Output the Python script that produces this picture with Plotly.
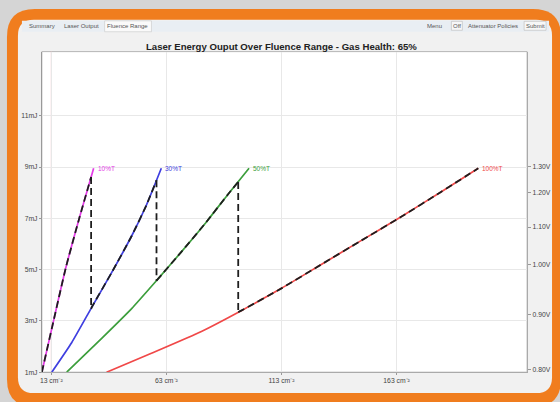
import plotly.graph_objects as go

# ---------------- data ----------------
pink_x = [8.9, 14.1, 19.3, 25.3, 31.4]
pink_y = [1.0, 3.05, 5.07, 7.05, 8.95]

blue_x = [13.2, 21.9, 30.5, 39.2, 47.9, 54.3, 60.8]
blue_y = [1.0, 2.16, 3.52, 4.88, 6.31, 7.51, 8.95]

green_x = [19.7, 34.9, 47.9, 58.7, 69.5, 80.3, 89.8, 98.9]
green_y = [1.0, 2.32, 3.48, 4.57, 5.69, 6.85, 7.94, 8.95]

red_x = [37.0, 56.5, 78.2, 95.5, 112.8, 130.1, 147.4, 164.8, 182.1, 198.5]
red_y = [1.0, 1.74, 2.59, 3.40, 4.26, 5.19, 6.12, 7.05, 8.02, 8.95]

# black dashed operating path (segments separated by None)
path_x = [8.9, 14.1, 19.3, 25.3, 30.3, None, 30.3, 30.3, None,
          30.3, 30.5, 39.2, 47.9, 54.3, 58.7, None, 58.7, 58.7, None,
          58.7, 69.5, 80.3, 89.8, 94.2, None, 94.2, 94.2, None,
          94.2, 95.5, 112.8, 130.1, 147.4, 164.8, 182.1, 198.5]
path_y = [1.0, 3.05, 5.07, 7.05, 8.61, None, 8.61, 3.47, None,
          3.47, 3.52, 4.88, 6.31, 7.51, 8.48, None, 8.48, 4.57, None,
          4.57, 5.69, 6.85, 7.94, 8.42, None, 8.42, 3.34, None,
          3.34, 3.40, 4.26, 5.19, 6.12, 7.05, 8.02, 8.95]

curve_labels = ["10%T", "30%T", "50%T", "100%T"]

x_tickvals = [13, 63, 113, 163]
x_ticktext = ["13 cm\u207b\u00b2", "63 cm\u207b\u00b2", "113 cm\u207b\u00b2", "163 cm\u207b\u00b2"]

y_tickvals = [1, 3, 5, 7, 9, 11]
y_ticktext = ["1mJ", "3mJ", "5mJ", "7mJ", "9mJ", "11mJ"]

v_tickvals = [1.12, 3.25, 5.19, 6.66, 8.02, 9.02]
v_ticktext = ["0.80V", "0.90V", "1.00V", "1.10V", "1.20V", "1.30V"]

title_text = "Laser Energy Ouput Over Fluence Range - Gas Health: 65%"

# ---------------- figure ----------------
W, H = 560, 402


def fx(p):
    return p / W


def fy(p):
    return 1 - p / H


def rrect(x0, y0, x1, y1, r):
    rx, ry = r / W, r / H
    X0, X1 = fx(x0), fx(x1)
    Yt, Yb = fy(y0), fy(y1)
    return (f"M {X0+rx},{Yt} L {X1-rx},{Yt} Q {X1},{Yt} {X1},{Yt-ry} "
            f"L {X1},{Yb+ry} Q {X1},{Yb} {X1-rx},{Yb} L {X0+rx},{Yb} "
            f"Q {X0},{Yb} {X0},{Yb+ry} L {X0},{Yt-ry} Q {X0},{Yt} {X0+rx},{Yt} Z")


FONT = "Liberation Sans, Arial, sans-serif"

fig = go.Figure()

line_specs = [
    (pink_x, pink_y, "#e33be6"),
    (blue_x, blue_y, "#3f3fe0"),
    (green_x, green_y, "#3c9e3c"),
    (red_x, red_y, "#f04848"),
]
for xs, ys, c in line_specs:
    fig.add_trace(go.Scatter(x=xs, y=ys, mode="lines",
                             line=dict(color=c, width=1.7, shape="spline", smoothing=0.5),
                             hoverinfo="skip", showlegend=False))

fig.add_trace(go.Scatter(x=path_x, y=path_y, mode="lines", connectgaps=False,
                         line=dict(color="#1e1e1e", width=1.8, dash="7px,4px",
                                   shape="spline", smoothing=0.5),
                         hoverinfo="skip", showlegend=False))

# invisible trace on right axis so it renders
fig.add_trace(go.Scatter(x=[pink_x[0]], y=[pink_y[0]], yaxis="y2", mode="markers",
                         marker=dict(opacity=0), hoverinfo="skip", showlegend=False))

for (xs, ys, c), lab in zip(line_specs, curve_labels):
    fig.add_annotation(x=xs[-1], y=ys[-1], text=lab, showarrow=False,
                       xanchor="left", yanchor="middle", xshift=2,
                       font=dict(family=FONT, size=6.5, color=c))

shapes = []
# orange frame
shapes.append(dict(type="path", xref="paper", yref="paper", layer="below",
                   path=rrect(5, 9, 561, 410, 28), fillcolor="#f07d1e", line=dict(width=0)))
# window interior
shapes.append(dict(type="path", xref="paper", yref="paper", layer="below",
                   path=rrect(16, 20, 552, 396, 16), fillcolor="#f1f1f1", line=dict(width=0)))
# tab bar
shapes.append(dict(type="rect", xref="paper", yref="paper", layer="below",
                   x0=fx(20), x1=fx(549), y0=fy(32), y1=fy(21),
                   fillcolor="#e9eef3", line=dict(width=0)))
# selected tab
shapes.append(dict(type="rect", xref="paper", yref="paper", layer="below",
                   x0=fx(103), x1=fx(150), y0=fy(32), y1=fy(21),
                   fillcolor="#fafafa", line=dict(color="#c8c8c8", width=0.6)))
# control boxes on right
for a, b in [(451, 462), (524, 546)]:
    shapes.append(dict(type="rect", xref="paper", yref="paper", layer="below",
                       x0=fx(a), x1=fx(b), y0=fy(30.5), y1=fy(21.5),
                       fillcolor="#f7f7f7", line=dict(color="#b8b8b8", width=0.6)))
# plot area
shapes.append(dict(type="rect", xref="paper", yref="paper", layer="below",
                   x0=fx(40), x1=fx(527), y0=fy(375), y1=fy(52),
                   fillcolor="#ffffff", line=dict(color="#b4b4b4", width=1)))
# first x grid line (pink)
shapes.append(dict(type="line", xref="x", yref="paper", layer="below",
                   x0=x_tickvals[0], x1=x_tickvals[0], y0=fy(375), y1=fy(52),
                   line=dict(color="#f5c4c8", width=1)))
fig.update_layout(shapes=shapes)

# tab texts & controls
small = dict(family=FONT, size=6, color="#555555")
for txt, xp in [("Summary", 40), ("Laser Output", 80), ("Fluence Range", 126),
                ("Menu", 434), ("Off", 456.5), ("Attenuator Policies", 493), ("Submit", 535)]:
    fig.add_annotation(xref="paper", yref="paper", x=fx(xp), y=fy(26.5), text=txt,
                       showarrow=False, xanchor="center", yanchor="middle", font=small)

fig.add_annotation(xref="paper", yref="paper", x=fx(281), y=fy(47), text="<b>" + title_text + "</b>",
                   showarrow=False, xanchor="center", yanchor="middle",
                   font=dict(family=FONT, size=9.6, color="#222222"))

tickfont = dict(family=FONT, size=6.8, color="#444444")
fig.update_layout(
    width=W, height=H,
    margin=dict(l=0, r=0, t=0, b=0),
    paper_bgcolor="#d5d5d5",
    plot_bgcolor="rgba(0,0,0,0)",
    xaxis=dict(domain=[fx(40), fx(527)], range=[8.9, 219.7],
               tickvals=x_tickvals, ticktext=x_ticktext, tickfont=tickfont,
               showgrid=True, gridcolor="#e8e8e8", gridwidth=1,
               ticks="outside", ticklen=2, tickcolor="#999999",
               showline=True, linecolor="#aaaaaa", zeroline=False, fixedrange=True),
    yaxis=dict(domain=[fy(375), fy(52)], range=[1, 13.5],
               tickvals=y_tickvals, ticktext=y_ticktext, tickfont=tickfont,
               showgrid=True, gridcolor="#e8e8e8", gridwidth=1,
               ticks="outside", ticklen=2, tickcolor="#999999",
               showline=True, linecolor="#999999", zeroline=False, fixedrange=True),
    yaxis2=dict(overlaying="y", side="right", range=[1, 13.5],
                tickvals=v_tickvals, ticktext=v_ticktext, tickfont=tickfont,
                showgrid=False, ticks="outside", ticklen=3, tickcolor="#999999",
                showline=True, linecolor="#aaaaaa", zeroline=False, fixedrange=True),
)

fig.write_html("out.html", config={"displayModeBar": False},
               post_script="document.body.style.margin='0px';document.body.style.overflow='hidden';")
